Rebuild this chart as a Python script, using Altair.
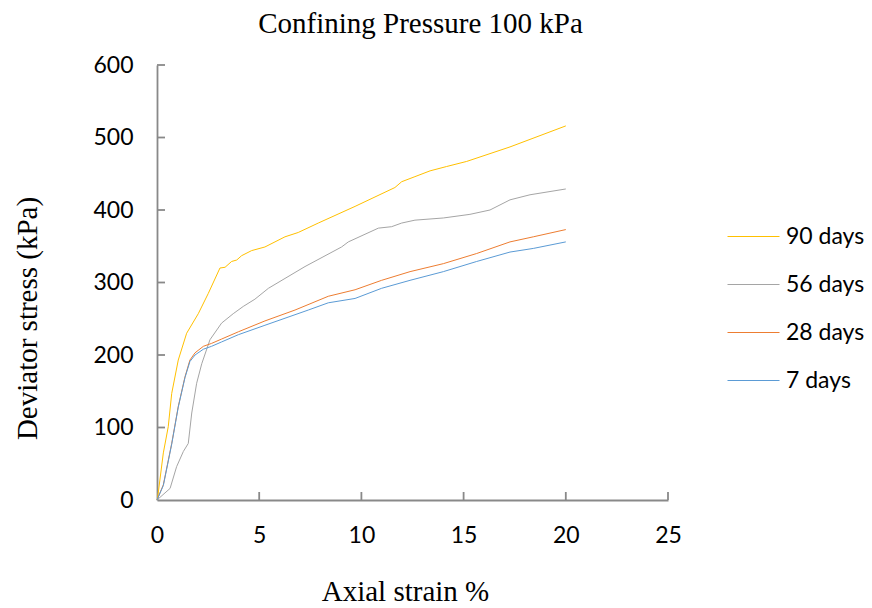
import altair as alt
import pandas as pd

series_names = ["90 days", "56 days", "28 days", "7 days"]
series_colors = ["#FFC000", "#A5A5A5", "#ED7D31", "#5B9BD5"]

strain_90 = [0, 0.03, 0.31, 0.55, 0.72, 1.04, 1.45, 2.02, 2.51, 3.08, 3.33, 3.65, 3.90, 4.14, 4.63,
             5.28, 6.26, 6.91, 7.89, 9.69, 11.64, 11.97, 12.62, 13.36, 14.17, 15.15, 17.27, 20.0]
stress_90 = [0, 3, 65, 101, 147, 193, 230, 257, 285, 320, 321, 329, 331, 337, 344,
             349, 363, 369, 382, 405, 431, 439, 446, 454, 460, 467, 487, 516]

strain_56 = [0, 0.64, 0.96, 1.29, 1.53, 1.70, 1.94, 2.19, 2.59, 3.16, 3.73, 4.22, 4.79, 5.45,
             7.24, 9.03, 9.36, 10.83, 11.48, 11.97, 12.62, 14.01, 15.31, 16.29, 17.27, 18.25, 20.0]
stress_56 = [0, 16, 46, 67, 78, 120, 161, 188, 221, 244, 257, 267, 277, 292,
             322, 349, 356, 375, 377, 382, 386, 389, 394, 400, 414, 421, 429]

strain_28 = [0, 0.31, 0.72, 1.04, 1.37, 1.61, 1.86, 2.27, 2.67, 3.16, 3.98, 5.28, 6.75, 8.38,
             9.69, 10.99, 12.38, 14.01, 15.64, 17.27, 18.41, 20.0]
stress_28 = [0, 21, 78, 129, 170, 193, 203, 212, 216, 222, 232, 247, 262, 281,
             290, 303, 315, 326, 340, 356, 363, 373]

strain_7 = [0, 0.31, 0.72, 1.04, 1.37, 1.61, 1.86, 2.27, 2.67, 3.16, 3.98, 5.28, 7.40, 8.38,
            9.69, 10.99, 12.38, 14.01, 15.64, 17.27, 18.41, 20.0]
stress_7 = [0, 20, 77, 128, 169, 191, 200, 208, 212, 218, 228, 241, 262, 272,
            278, 292, 303, 315, 329, 342, 347, 356]

x_ticks = [0, 5, 10, 15, 20, 25]
y_ticks = [0, 100, 200, 300, 400, 500, 600]

rows = []
for name, xs, ys in zip(series_names,
                        [strain_90, strain_56, strain_28, strain_7],
                        [stress_90, stress_56, stress_28, stress_7]):
    for i, (a, b) in enumerate(zip(xs, ys)):
        rows.append({"series": name, "strain": a, "stress": b, "order": i})
df = pd.DataFrame(rows)

AXIS_GRAY = "#898989"
W, H = 511, 435

x_scale = alt.Scale(domain=[0, 25], nice=False)
y_scale = alt.Scale(domain=[0, 600], nice=False)

x_axis = alt.Axis(values=x_ticks, title="Axial strain %", grid=False, ticks=False, tickSize=0,
                  domainColor=AXIS_GRAY, domainWidth=1.8, labelFlush=False,
                  labelFont="Lato", labelFontSize=23, labelColor="black", labelPadding=24,
                  titleFont="Liberation Serif", titleFontSize=29, titleFontWeight="normal",
                  titleColor="black", titleX=248, titleY=100, titleAlign="center",
                  titleBaseline="alphabetic")
y_axis = alt.Axis(values=y_ticks, title="Deviator stress (kPa)", grid=False, ticks=False, tickSize=0,
                  domainColor=AXIS_GRAY, domainWidth=1.8,
                  labelFont="Lato", labelFontSize=23, labelColor="black", labelPadding=24,
                  titleFont="Liberation Serif", titleFontSize=29, titleFontWeight="normal",
                  titleColor="black", titleX=-121, titleY=253, titleAngle=270,
                  titleAlign="center", titleBaseline="alphabetic")

lines = alt.Chart(df).mark_line(strokeWidth=1.0).encode(
    x=alt.X("strain:Q", scale=x_scale, axis=x_axis),
    y=alt.Y("stress:Q", scale=y_scale, axis=y_axis),
    color=alt.Color("series:N", scale=alt.Scale(domain=series_names, range=series_colors),
                    legend=alt.Legend(title=None, orient="none", legendX=570, legendY=145,
                                      symbolType="stroke", symbolSize=2704, symbolStrokeWidth=1.0,
                                      labelFont="Lato", labelFontSize=23, labelColor="black",
                                      labelOffset=6, rowPadding=9, padding=0)),
    order="order:Q",
)

xt = alt.Chart(pd.DataFrame({"strain": x_ticks[1:]})).mark_rule(color=AXIS_GRAY, strokeWidth=1.8).encode(
    x=alt.X("strain:Q", scale=x_scale, axis=x_axis),
    y=alt.value(H), y2=alt.value(H - 8),
)
yt = alt.Chart(pd.DataFrame({"stress": y_ticks[1:]})).mark_rule(color=AXIS_GRAY, strokeWidth=1.8).encode(
    y=alt.Y("stress:Q", scale=y_scale, axis=y_axis),
    x=alt.value(0), x2=alt.value(8),
)

chart = alt.layer(xt, yt, lines).properties(
    width=W, height=H,
    title=alt.TitleParams("Confining Pressure 100 kPa", font="Liberation Serif", fontSize=29,
                          fontWeight="normal", color="black", anchor="middle", frame="group",
                          offset=19, dx=8, dy=27, baseline="alphabetic"),
    autosize=alt.AutoSizeParams(type="none"),
    padding={"left": 157, "top": 65, "right": 204, "bottom": 108},
).configure_view(stroke=None)

chart.save("out.html", embed_options={"renderer": "svg", "actions": False})
